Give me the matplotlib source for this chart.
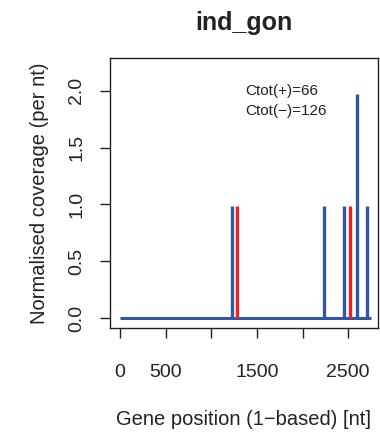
import matplotlib
matplotlib.use("Agg")
import matplotlib.pyplot as plt

plt.rcParams['font.family'] = ['Liberation Sans', 'DejaVu Sans']

# coverage spikes (gene position, normalised coverage)
plus_pos = [1228, 2240, 2454, 2593, 2710]
plus_cov = [0.985, 0.985, 0.985, 1.97, 0.985]
minus_pos = [1277, 2520]
minus_cov = [0.985, 0.985]
gene_len = 2746
xticks = [0, 500, 1000, 1500, 2000, 2500]
xticklabels = ["0", "500", "", "1500", "", "2500"]
yticks = [0.0, 0.5, 1.0, 1.5, 2.0]

blue = "#3156a8"
red = "#ee2222"

fig = plt.figure(figsize=(3.8, 4.34), dpi=100)
ax = fig.add_axes([0.2895, 0.245, 0.705, 0.621])

ax.plot([0, gene_len], [0, 0], color=blue, lw=2.2, solid_capstyle="butt")
ax.vlines(plus_pos, 0, plus_cov, color=blue, lw=2.4)
ax.vlines(minus_pos, 0, minus_cov, color=red, lw=2.4)

ax.set_xlim(-110, 2826)
ax.set_ylim(-0.085, 2.286)
ax.set_xticks(xticks)
ax.set_xticklabels(xticklabels)
ax.set_yticks(yticks)
ax.set_yticklabels(["0.0", "0.5", "1.0", "1.5", "2.0"], rotation=90, va="center")
ax.tick_params(direction="out", length=7, width=1, labelsize=14, colors="#222222")
ax.tick_params(axis="x", pad=19)
ax.tick_params(axis="y", pad=11)
for s in ax.spines.values():
    s.set_linewidth(1)
    s.set_color("#222222")

ax.set_ylabel("Normalised coverage (per nt)", fontsize=14.5, color="#222222", labelpad=14)
ax.set_xlabel("Gene position (1\u2212based) [nt]", fontsize=14.5, color="#222222", labelpad=21)
ax.set_title("ind_gon", fontsize=18, fontweight="bold", color="#222222", pad=20)

ax.text(1370, 2.0, "Ctot(+)=66", fontsize=11, color="#222222", va="center")
ax.text(1370, 1.82, "Ctot(\u2212)=126", fontsize=11, color="#222222", va="center")

fig.savefig("out.png", dpi=100)
